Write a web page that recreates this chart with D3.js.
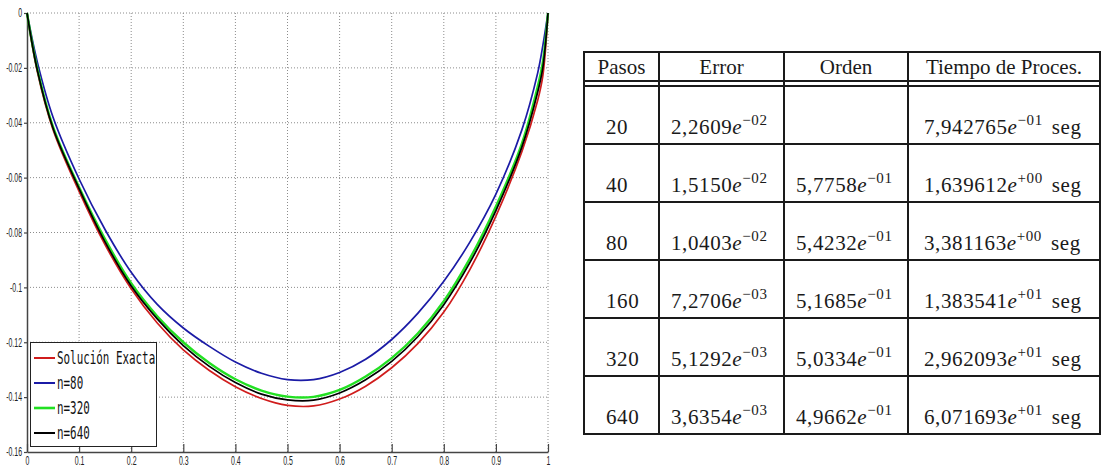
<!DOCTYPE html>
<html>
<head>
<meta charset="utf-8">
<script src="https://cdn.jsdelivr.net/npm/d3@7"></script>
<style>
  html, body { margin: 0; padding: 0; background: #fff; }
  svg { display: block; }
</style>
</head>
<body>
<svg id="chart" width="1102" height="467"></svg>
<script>
var xs = [0, 0.02, 0.05, 0.1, 0.15, 0.2, 0.25, 0.3, 0.35, 0.4, 0.45, 0.5, 0.55, 0.6, 0.65, 0.7, 0.75, 0.8, 0.85, 0.9, 0.95, 0.98, 0.99, 1];

var exacta = [0, -0.0215, -0.0425, -0.0650, -0.0845, -0.1005, -0.1130, -0.1228, -0.1303, -0.1362, -0.1405, -0.1430, -0.1432, -0.1407, -0.1360, -0.1293, -0.1205, -0.1090, -0.0935, -0.0740, -0.0505, -0.032, -0.023, 0];
var n80    = [0, -0.018, -0.038, -0.0605, -0.0790, -0.0945, -0.1062, -0.1148, -0.1215, -0.1272, -0.1313, -0.1336, -0.1336, -0.1310, -0.1262, -0.1190, -0.1095, -0.0978, -0.0835, -0.0660, -0.0425, -0.022, -0.012, 0];
var n320   = [0, -0.0205, -0.0415, -0.0635, -0.0825, -0.0985, -0.1105, -0.1200, -0.1276, -0.1335, -0.1376, -0.1398, -0.1399, -0.1374, -0.1325, -0.1258, -0.1168, -0.1050, -0.0895, -0.0705, -0.0475, -0.027, -0.018, 0];
var n640   = [0, -0.021, -0.042, -0.064, -0.0835, -0.0995, -0.1115, -0.1212, -0.1288, -0.1347, -0.1389, -0.1410, -0.1411, -0.1385, -0.1337, -0.1270, -0.1180, -0.1063, -0.0910, -0.0720, -0.0488, -0.029, -0.020, 0];

var seriesNames = ['Solución Exacta', 'n=80', 'n=320', 'n=640'];
var seriesColors = ['#d01c1c', '#1b1ba6', '#22e022', '#000000'];

var xTicks = [0, 0.1, 0.2, 0.3, 0.4, 0.5, 0.6, 0.7, 0.8, 0.9, 1];
var yTicks = [0, -0.02, -0.04, -0.06, -0.08, -0.1, -0.12, -0.14, -0.16];

// table
var tableHead = ['Pasos', 'Error', 'Orden', 'Tiempo de Proces.'];
var pasos = ['20', '40', '80', '160', '320', '640'];
var errMant = ['2,2609', '1,5150', '1,0403', '7,2706', '5,1292', '3,6354'];
var errExp = ['−02', '−02', '−02', '−03', '−03', '−03'];
var ordMant = [null, '5,7758', '5,4232', '5,1685', '5,0334', '4,9662'];
var ordExp = [null, '−01', '−01', '−01', '−01', '−01'];
var timeMant = ['7,942765', '1,639612', '3,381163', '1,383541', '2,962093', '6,071693'];
var timeExp = ['−01', '+00', '+00', '+01', '+01', '+01'];

var svg = d3.select('#chart');

var x = d3.scaleLinear().domain([0, 1]).range([27, 548]);
var y = d3.scaleLinear().domain([-0.16, 0]).range([452, 13]);

var sx = 0.58; // horizontal squeeze for the narrow axis font

// dotted grid
var grid = svg.append('g');
grid.selectAll('line.gx')
  .data(xTicks.slice(1))
  .enter().append('line')
  .attr('x1', d => x(d)).attr('x2', d => x(d))
  .attr('y1', y(0)).attr('y2', y(-0.16))
  .attr('stroke', '#8c8c8c').attr('stroke-width', 1)
  .attr('stroke-dasharray', '1,2');
grid.selectAll('line.gy')
  .data(yTicks.slice(0, -1))
  .enter().append('line')
  .attr('x1', x(0)).attr('x2', x(1))
  .attr('y1', d => y(d)).attr('y2', d => y(d))
  .attr('stroke', '#8c8c8c').attr('stroke-width', 1)
  .attr('stroke-dasharray', '1,2');

// axes
var yAxis = d3.axisLeft(y).tickValues(yTicks)
  .tickFormat(d => d === 0 ? '0' : String(+d.toFixed(2)))
  .tickSizeInner(3).tickSizeOuter(0);
var xAxis = d3.axisBottom(x).tickValues(xTicks)
  .tickFormat(d => String(+d.toFixed(1)))
  .tickSizeInner(-8).tickSizeOuter(0);

var gy = svg.append('g').attr('transform', 'translate(' + x(0) + ',0)').call(yAxis);
var gx = svg.append('g').attr('transform', 'translate(0,' + y(-0.16) + ')').call(xAxis);

[gy, gx].forEach(function(g) {
  g.select('.domain').attr('stroke', '#444').attr('stroke-width', 1.5);
  g.selectAll('.tick line').attr('stroke', '#444').attr('stroke-width', 1.2);
  g.selectAll('.tick text')
    .attr('font-family', 'Liberation Sans, Arial, sans-serif')
    .attr('font-size', 12)
    .attr('fill', '#222');
});
gy.selectAll('.tick text')
  .attr('x', -5 / sx)
  .attr('transform', 'scale(' + sx + ',1)');
gx.selectAll('.tick text')
  .attr('y', 4)
  .attr('transform', 'scale(' + sx + ',1)');

// curves
var allSeries = [exacta, n80, n320, n640];
var line = d3.line()
  .x((d, i) => x(xs[i]))
  .y(d => y(d))
  .curve(d3.curveCatmullRom.alpha(0.5));

svg.append('g').selectAll('path')
  .data(allSeries)
  .enter().append('path')
  .attr('d', d => line(d))
  .attr('fill', 'none')
  .attr('stroke', (d, i) => seriesColors[i])
  .attr('stroke-width', (d, i) => i === 2 ? 2.4 : 1.7);

// legend
var legend = svg.append('g');
legend.append('rect')
  .attr('x', 30.5).attr('y', 342.5)
  .attr('width', 126).attr('height', 104)
  .attr('fill', '#fff').attr('stroke', '#222').attr('stroke-width', 1);

var items = legend.selectAll('g.item')
  .data(seriesNames)
  .enter().append('g')
  .attr('transform', (d, i) => 'translate(0,' + (358 + i * 25) + ')');
items.append('line')
  .attr('x1', 34).attr('x2', 55)
  .attr('stroke', (d, i) => seriesColors[i])
  .attr('stroke-width', (d, i) => i === 2 ? 2.6 : 2);
items.append('text')
  .attr('transform', 'translate(57,0) scale(0.64,1)')
  .attr('dy', '0.36em')
  .attr('font-family', 'DejaVu Sans Mono, monospace')
  .attr('font-size', 17)
  .attr('fill', '#111')
  .text(d => d);

// table
var colX = [584, 659, 784, 908, 1100];
var tTop = 52, headBot = 81, rowTop = 86, rowH = 58;
var tBot = rowTop + rowH * pasos.length;
var tab = svg.append('g').attr('stroke', '#1a1a1a').attr('stroke-width', 2);

tab.selectAll('line.v')
  .data(colX)
  .enter().append('line')
  .attr('x1', d => d).attr('x2', d => d)
  .attr('y1', tTop).attr('y2', tBot);

var hLines = [tTop, headBot, rowTop].concat(pasos.map((p, i) => rowTop + rowH * (i + 1)));
tab.selectAll('line.h')
  .data(hLines)
  .enter().append('line')
  .attr('x1', colX[0] - 1).attr('x2', colX[4] + 1)
  .attr('y1', d => d).attr('y2', d => d);

var txt = svg.append('g')
  .attr('font-family', 'Liberation Serif, Times New Roman, serif')
  .attr('font-size', 21)
  .attr('fill', '#1a1a1a');

txt.selectAll('text.head')
  .data(tableHead)
  .enter().append('text')
  .attr('x', (d, i) => (colX[i] + colX[i + 1]) / 2)
  .attr('y', 74)
  .attr('text-anchor', 'middle')
  .text(d => d);

function sci(sel, mant, exp, unit) {
  sel.attr('letter-spacing', 0.6);
  sel.append('tspan').text(mant);
  sel.append('tspan').attr('font-style', 'italic').text('e');
  sel.append('tspan').attr('font-size', 15).attr('dy', -9).text(exp);
  if (unit) sel.append('tspan').attr('dy', 9).attr('dx', 9).text(unit);
}

pasos.forEach(function(p, i) {
  var by = rowTop + rowH * (i + 1) - 10;
  txt.append('text').attr('x', 606).attr('y', by).attr('letter-spacing', 0.6).text(p);
  sci(txt.append('text').attr('x', 671).attr('y', by), errMant[i], errExp[i]);
  if (ordMant[i]) sci(txt.append('text').attr('x', 796).attr('y', by), ordMant[i], ordExp[i]);
  sci(txt.append('text').attr('x', 924).attr('y', by), timeMant[i], timeExp[i], 'seg');
});
</script>
</body>
</html>
